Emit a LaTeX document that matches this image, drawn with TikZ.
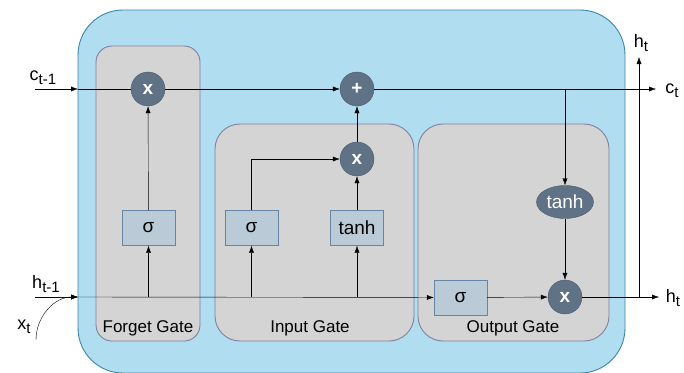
\documentclass[tikz,border=0pt]{standalone}
\usepackage{fontspec}
\setmainfont{Liberation Sans}
\usepackage{tikz}
\usetikzlibrary{shapes.geometric}
\usetikzlibrary{positioning}
\usetikzlibrary{arrows.meta}
\definecolor{fondcellule}{HTML}{B1DDF0}
\definecolor{bordcellule}{HTML}{3A86A8}
\definecolor{fondporte}{HTML}{D4D4D4}
\definecolor{bordporte}{HTML}{8080A0}
\definecolor{fondoperation}{HTML}{5F7286}
\definecolor{bordoperation}{HTML}{4A5A6C}
\definecolor{fondcouche}{HTML}{BACAD6}
\definecolor{bordcouche}{HTML}{6585A2}
\newcommand{\indice}[1]{\raisebox{-4pt}{\fontsize{15}{15}\selectfont #1}}

\begin{document}
\begin{tikzpicture}[x=1pt,y=-1pt]
% définition des paramètres
\tikzstyle cellule=[draw=bordcellule,fill=fondcellule,line width=0.9pt,rounded corners=45pt]
\tikzstyle porte=[draw=bordporte,fill=fondporte,line width=0.9pt,rounded corners=25pt]
\tikzstyle texteporte=[font=\fontsize{17}{20}\selectfont,inner sep=0pt]
\tikzstyle operation=[circle,draw=bordoperation,fill=fondoperation,text=white,minimum size=34pt,inner sep=0pt,font=\fontsize{19}{20}\selectfont\bfseries]
\tikzstyle activation=[ellipse,draw=bordoperation,fill=fondoperation,text=white,minimum width=57pt,minimum height=33pt,inner sep=0pt,font=\fontsize{19}{20}\selectfont]
\tikzstyle couche=[rectangle,draw=bordcouche,fill=fondcouche,minimum width=53pt,minimum height=35pt,inner sep=0pt,font=\fontsize{19}{20}\selectfont]
\tikzstyle etiquette=[font=\fontsize{18}{20}\selectfont,inner sep=0pt]
\tikzstyle fleche=[-{Latex[length=7pt,width=5pt]}]
\useasboundingbox (0,0) rectangle (684,372);
\clip (0,0) rectangle (684,372);
% la cellule et les portes
\draw [cellule] (78,10) rectangle (625,373);
\draw [porte,rounded corners=16pt] (96,46) rectangle (200,341);
\draw [porte] (215,124) rectangle (414,341);
\draw [porte] (418,124) rectangle (609,341);
\node[texteporte] (nomoubli) at (148,328) {Forget Gate};
\node[texteporte] (nomentree) at (310,328) {Input Gate};
\node[texteporte] (nomsortie) at (513,328) {Output Gate};
% les opérations
\node[operation] (multoubli) at (148,89) {x};
\node[operation] (somme) at (357,89) {+};
\node[operation] (multentree) at (357,159) {x};
\node[operation] (multsortie) at (565,297) {x};
\node[activation] (tanhsortie) at (565,202) {tanh};
% les couches
\node[couche] (sigoubli) at (148.5,228) {σ};
\node[couche] (sigentree) at (251.5,228) {σ};
\node[couche] (tanhentree) at (357,228) {tanh};
\node[couche] (sigsortie) at (460.5,297.5) {σ};
% les entrées et sorties
\coordinate (centree) at (35,89);
\coordinate (cbord) at (78,89);
\coordinate (hentree) at (35,297);
\coordinate (hbord) at (78,297);
\coordinate (xentree) at (36,340);
\coordinate (csortie) at (656,89);
\coordinate (hsortie) at (659,297);
\coordinate (hcoude) at (639,297);
\coordinate (hhaut) at (639,57);
\node[etiquette] (lcentree) at (43,78) {c\indice{t-1}};
\node[etiquette] (lhentree) at (46,284) {h\indice{t-1}};
\node[etiquette] (lxentree) at (24,327) {x\indice{t}};
\node[etiquette] (lcsortie) at (672,91) {c\indice{t}};
\node[etiquette] (lhsortie) at (673,298) {h\indice{t}};
\node[etiquette] (lhhaut) at (641,43) {h\indice{t}};
% les connexions
\draw [fleche] (centree) -- (cbord);
\draw (cbord) -- (multoubli);
\draw [fleche] (multoubli) -- (somme);
\draw [fleche] (hentree) -- (hbord);
\draw [fleche] (xentree) to[out=90,in=180] (hbord);
\draw [fleche] (hbord) -- (sigsortie);
\draw [fleche] (sigoubli |- hbord) -- (sigoubli);
\draw [fleche] (sigentree |- hbord) -- (sigentree);
\draw [fleche] (tanhentree |- hbord) -- (tanhentree);
\draw [fleche] (sigoubli) -- (multoubli);
\draw [fleche] (sigentree) |- (multentree);
\draw [fleche] (tanhentree) -- (multentree);
\draw [fleche] (multentree) -- (somme);
\draw [fleche] (somme) -- (csortie);
\draw [fleche] (tanhsortie |- somme) -- (tanhsortie);
\draw [fleche] (tanhsortie) -- (multsortie);
\draw [fleche] (sigsortie) -- (multsortie);
\draw [fleche] (multsortie) -- (hsortie);
\draw [fleche] (hcoude) -- (hhaut);
\end{tikzpicture}
\end{document}
